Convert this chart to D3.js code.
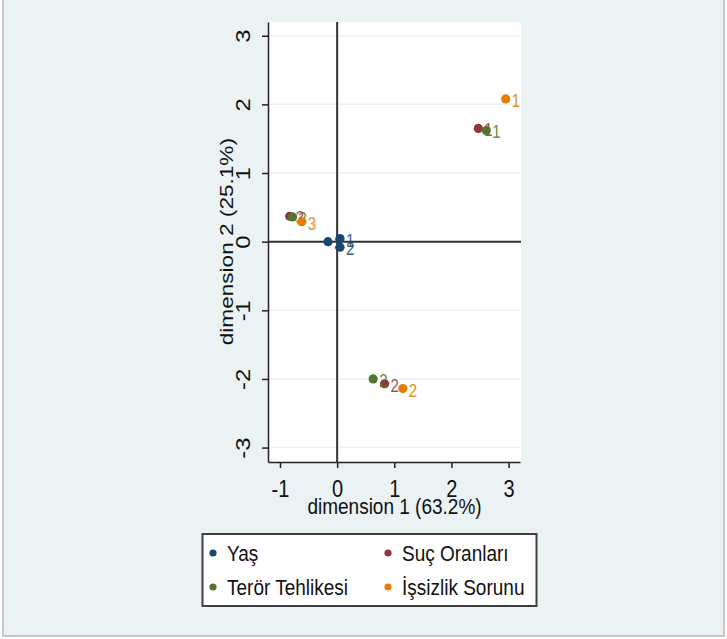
<!DOCTYPE html>
<html>
<head>
<meta charset="utf-8">
<script src="https://cdnjs.cloudflare.com/ajax/libs/d3/7.8.5/d3.min.js"></script>
<style>
  body { margin: 0; background: #fff; }
  text { font-family: "Liberation Sans", Arial, sans-serif; }
</style>
</head>
<body>
<svg id="chart"></svg>
<script>
// series (category coordinates on dimension 1 / dimension 2)
const seriesNames = ["Yaş", "Suç Oranları", "Terör Tehlikesi", "İşsizlik Sorunu"];
const seriesColors = ["#1a476f", "#90353b", "#55752f", "#e37e00"];
const pointLabels = ["1", "2", "3"];

const yasX = [0.05, 0.05, -0.16];
const yasY = [0.045, -0.08, 0.0];
const sucX = [2.47, 0.83, -0.83];
const sucY = [1.65, -2.07, 0.37];
const terorX = [2.61, 0.63, -0.78];
const terorY = [1.62, -2.0, 0.36];
const issizX = [2.95, 1.15, -0.62];
const issizY = [2.08, -2.14, 0.29];

const xTicks = [-1, 0, 1, 2, 3];
const yTicks = [-3, -2, -1, 0, 1, 2, 3];
const xTitle = "dimension 1 (63.2%)";
const yTitle = "dimension 2 (25.1%)";

const W = 727, H = 639;
const SY = 1.19; // the original picture is stretched vertically

const svg = d3.select("#chart")
  .attr("width", W)
  .attr("height", H);

// outer background
svg.append("rect")
  .attr("x", 3).attr("y", -5)
  .attr("width", 721).attr("height", 641)
  .attr("fill", "#eaf2f3")
  .attr("stroke", "#c8c8c8")
  .attr("stroke-width", 2);

const plot = { left: 268, right: 521, top: 22, bottom: 462 };

var x = d3.scaleLinear()
  .domain([-1.21, 3.2])
  .range([plot.left, 520]);
var y = d3.scaleLinear()
  .domain([-3.21, 3.2])
  .range([plot.bottom, plot.top]);

// plot region
svg.append("rect")
  .attr("x", plot.left).attr("y", plot.top)
  .attr("width", plot.right - plot.left)
  .attr("height", plot.bottom - plot.top)
  .attr("rx", 3)
  .attr("fill", "#fff");

// horizontal grid
svg.append("g")
  .selectAll("line")
  .data(yTicks)
  .enter()
  .append("line")
  .attr("x1", plot.left).attr("x2", plot.right)
  .attr("y1", d => y(d)).attr("y2", d => y(d))
  .attr("stroke", "#eaf2f3")
  .attr("stroke-width", 1.5);

// reference lines at 0
svg.append("line")
  .attr("x1", x(0)).attr("x2", x(0))
  .attr("y1", plot.top).attr("y2", plot.bottom)
  .attr("stroke", "#333").attr("stroke-width", 2);
svg.append("line")
  .attr("x1", plot.left).attr("x2", plot.right)
  .attr("y1", y(0)).attr("y2", y(0))
  .attr("stroke", "#333").attr("stroke-width", 2);

// axes
const xAxis = svg.append("g")
  .attr("transform", "translate(0," + plot.bottom + ")")
  .call(d3.axisBottom(x).tickValues(xTicks).tickSize(6).tickSizeOuter(0).tickFormat(d => String(d)));
const yAxis = svg.append("g")
  .attr("transform", "translate(" + plot.left + ",0)")
  .call(d3.axisLeft(y).tickValues(yTicks).tickSize(6).tickSizeOuter(0).tickFormat(d => String(d)));

[xAxis, yAxis].forEach(a => {
  a.select(".domain").attr("stroke", "#222").attr("stroke-width", 1.5);
  a.selectAll(".tick line").attr("stroke", "#222").attr("stroke-width", 1.5);
  a.selectAll(".tick text")
    .attr("x", null).attr("y", null).attr("dy", null)
    .attr("fill", "#111")
    .attr("font-size", 20)
    .attr("text-anchor", "middle");
});
xAxis.selectAll(".tick text").attr("transform", "translate(0,35) scale(1," + SY + ")");
yAxis.selectAll(".tick text").attr("transform", "translate(-18,0) scale(1," + SY + ") rotate(-90)");

// axis titles
svg.append("text")
  .attr("transform", "translate(" + ((plot.left + plot.right) / 2) + ",514) scale(1," + SY + ")")
  .attr("text-anchor", "middle")
  .attr("font-size", 19)
  .attr("fill", "#111")
  .text(xTitle);
svg.append("text")
  .attr("transform", "translate(233," + y(0) + ") scale(1," + SY + ") rotate(-90)")
  .attr("text-anchor", "middle")
  .attr("font-size", 19)
  .attr("fill", "#111")
  .text(yTitle);

// points
const allX = [yasX, sucX, terorX, issizX];
const allY = [yasY, sucY, terorY, issizY];

seriesNames.forEach((name, s) => {
  const pts = allX[s].map((v, i) => ({ x: v, y: allY[s][i], label: pointLabels[i] }));
  const g = svg.append("g");
  g.selectAll("text")
    .data(pts)
    .enter()
    .append("text")
    .attr("transform", d => "translate(" + (x(d.x) + 6) + "," + (y(d.y) + 8) + ") scale(1," + SY + ")")
    .attr("font-size", 15)
    .attr("fill", seriesColors[s])
    .attr("opacity", 0.85)
    .text(d => d.label);
  g.selectAll("circle")
    .data(pts)
    .enter()
    .append("circle")
    .attr("cx", d => x(d.x))
    .attr("cy", d => y(d.y))
    .attr("r", 4.6)
    .attr("fill", seriesColors[s]);
});

// legend
const legend = svg.append("g");
legend.append("rect")
  .attr("x", 202.5).attr("y", 534)
  .attr("width", 334).attr("height", 72)
  .attr("fill", "#fff")
  .attr("stroke", "#404040")
  .attr("stroke-width", 2);

const legPos = [[213, 561], [388, 561], [213, 595], [388, 595]];
seriesNames.forEach((name, s) => {
  const p = legPos[s];
  legend.append("circle")
    .attr("cx", p[0]).attr("cy", p[1] - 8)
    .attr("r", 3.6)
    .attr("fill", seriesColors[s]);
  legend.append("text")
    .attr("transform", "translate(" + (p[0] + 14) + "," + p[1] + ") scale(1," + SY + ")")
    .attr("font-size", 19)
    .attr("fill", "#111")
    .text(name);
});
</script>
</body>
</html>
